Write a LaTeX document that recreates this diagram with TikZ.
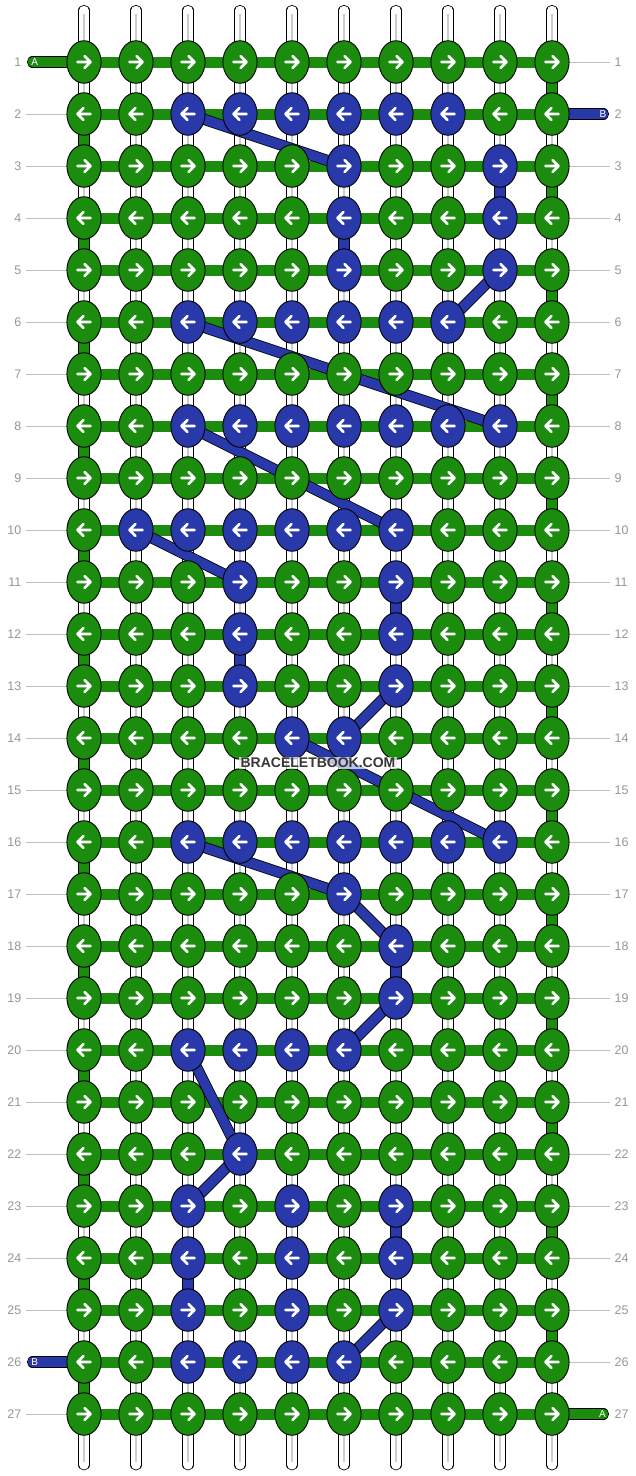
\documentclass[tikz,border=0pt]{standalone}
\usepackage{fontspec}
\setmainfont{Liberation Sans}
\usetikzlibrary{shapes.geometric}
\definecolor{bbGreen}{RGB}{28,140,14}
\definecolor{bbBlue}{RGB}{41,57,170}
\definecolor{rowgray}{RGB}{192,192,192}
\definecolor{numgray}{RGB}{150,150,150}
\definecolor{markgray}{RGB}{55,55,55}
\definecolor{warpgray}{RGB}{205,205,205}
\pgfdeclarelayer{bg}
\pgfsetlayers{bg,main}
\begin{document}
\begin{tikzpicture}[x=1pt,y=-1pt,
  knot/.style={ellipse, draw=black, line width=0.9pt, minimum width=34.2pt, minimum height=42.5pt, inner sep=0pt},
  arr/.style={white, line width=2.7pt, line cap=round, line join=round},
  warp/.style={draw=black, line width=0.8pt, double=white, double distance=9.5pt, line cap=round},
  warpmid/.style={draw=warpgray, line width=1.4pt},
  seg/.style={draw=black, line width=0.8pt, double distance=9.5pt},
  weft/.style={draw=bbGreen, line width=11pt},
  tail/.style={draw=black, line width=0.8pt, double distance=9.5pt, line cap=round},
  diag/.style={draw=black, line width=0.8pt, double=bbBlue, double distance=9.5pt},
  rowline/.style={draw=rowgray, line width=1pt},
  num/.style={text=numgray, font=\fontsize{12.5}{14}\selectfont, inner sep=0pt},
  tlab/.style={text=white, font=\fontsize{10}{12}\selectfont, inner sep=0pt},
  watermark/.style={font=\bfseries\fontsize{14}{16}\selectfont, text=markgray, fill=white, fill opacity=0.7, text opacity=1, inner sep=1.2pt}
]
\useasboundingbox (0,0) rectangle (636,1476);

% which knots are blue
\foreach \kk in {2-3,2-4,2-5,2-6,2-7,2-8,
  3-6,3-9,4-6,4-9,5-6,5-9,
  6-3,6-4,6-5,6-6,6-7,6-8,
  8-3,8-4,8-5,8-6,8-7,8-8,8-9,
  10-2,10-3,10-4,10-5,10-6,10-7,
  11-4,11-7,12-4,12-7,13-4,13-7,
  14-5,14-6,
  16-3,16-4,16-5,16-6,16-7,16-8,16-9,
  17-6,18-7,19-7,
  20-3,20-4,20-5,20-6,
  22-4,
  23-3,23-5,23-7,24-3,24-5,24-7,25-3,25-5,25-7,
  26-3,26-4,26-5,26-6}
  {\expandafter\gdef\csname isblue\kk\endcsname{}}

% knots
\foreach \rr in {1,...,27} {
  \foreach \cc in {1,...,10} {
    \ifcsname isblue\rr-\cc\endcsname\def\kc{bbBlue}\else\def\kc{bbGreen}\fi
    \node[knot, fill=\kc] (k-\rr-\cc) at ({84+52*(\cc-1)},{62+52*(\rr-1)}) {};
    \ifodd\rr\relax\def\dd{1}\else\def\dd{-1}\fi
    \draw[arr, shift={(k-\rr-\cc.center)}, xscale=\dd]
      (-6.5,0) -- (6.5,0) (0.5,-6) -- (6.5,0) -- (0.5,6);
  }
}

% row numbers
\foreach \rr in {1,...,27} {
  \node[num, anchor=east] (nl-\rr) at (21.5,{62+52*(\rr-1)}) {\rr};
  \node[num, anchor=west] (nr-\rr) at (614.5,{62+52*(\rr-1)}) {\rr};
}

% tail coordinates and labels
\coordinate (tA1) at (32.5,62);
\coordinate (tB2) at (603.5,114);
\coordinate (tB26) at (32.5,1362);
\coordinate (tA27) at (603.5,1414);
\node[tlab] (lA1) at (34.7,62) {A};
\node[tlab] (lB2) at (603,114) {B};
\node[tlab] (lB26) at (34.7,1362) {B};
\node[tlab] (lA27) at (602.5,1414) {A};

% watermark
\node[watermark] (wm) at (318,763) {BRACELETBOOK.COM};

\begin{pgfonlayer}{bg}
  \fill[white] (0,0) rectangle (636,1476);
  % gray guide lines
  \foreach \rr in {2,...,25,27} {
    \coordinate (gl-\rr) at (26,{62+52*(\rr-1)});
    \draw[rowline] (gl-\rr) -- (k-\rr-1.center);
  }
  \foreach \rr in {1,3,4,...,26} {
    \coordinate (gr-\rr) at (610,{62+52*(\rr-1)});
    \draw[rowline] (k-\rr-10.center) -- (gr-\rr);
  }
  % warp strings
  \foreach \cc in {1,...,10} {
    \coordinate (st-\cc) at ({84+52*(\cc-1)},10.5);
    \coordinate (sb-\cc) at ({84+52*(\cc-1)},1464.8);
    \draw[warp] (st-\cc) -- (sb-\cc);
    \draw[warpmid] ([yshift=-3pt]st-\cc) -- ([yshift=3pt]sb-\cc);
  }
  % coloured vertical segments at the edges
  \foreach \rr [evaluate=\rr as \rn using int(\rr+1)] in {1,3,...,25}
    \draw[seg, double=bbGreen] (k-\rr-10.center) -- (k-\rn-10.center);
  \foreach \rr [evaluate=\rr as \rn using int(\rr+1)] in {2,4,...,26}
    \draw[seg, double=bbGreen] (k-\rr-1.center) -- (k-\rn-1.center);
  % blue vertical segments
  \foreach \rr/\cc in {3/9,4/6,11/7,12/4,18/7,23/7,24/3} {
    \pgfmathtruncatemacro\rn{\rr+1}
    \draw[seg, double=bbBlue] (k-\rr-\cc.center) -- (k-\rn-\cc.center);
  }
  % tails
  \draw[tail, double=bbGreen] (tA1) -- (k-1-1.center);
  \draw[tail, double=bbBlue] (k-2-10.center) -- (tB2);
  \draw[tail, double=bbBlue] (tB26) -- (k-26-1.center);
  \draw[tail, double=bbGreen] (k-27-10.center) -- (tA27);
  % horizontal weft bars
  \foreach \rr in {1,...,27}
    \draw[weft] (k-\rr-1.center) -- (k-\rr-10.center);
  % blue diagonals
  \foreach \aa/\bb in {2-3/3-6, 5-9/6-8, 6-3/8-9, 8-3/10-7, 10-2/11-4,
      13-7/14-6, 14-5/16-9, 16-3/17-6, 17-6/18-7, 19-7/20-6,
      20-3/22-4, 22-4/23-3, 25-7/26-6}
    \draw[diag] (k-\aa.center) -- (k-\bb.center);
\end{pgfonlayer}
\end{tikzpicture}
\end{document}
